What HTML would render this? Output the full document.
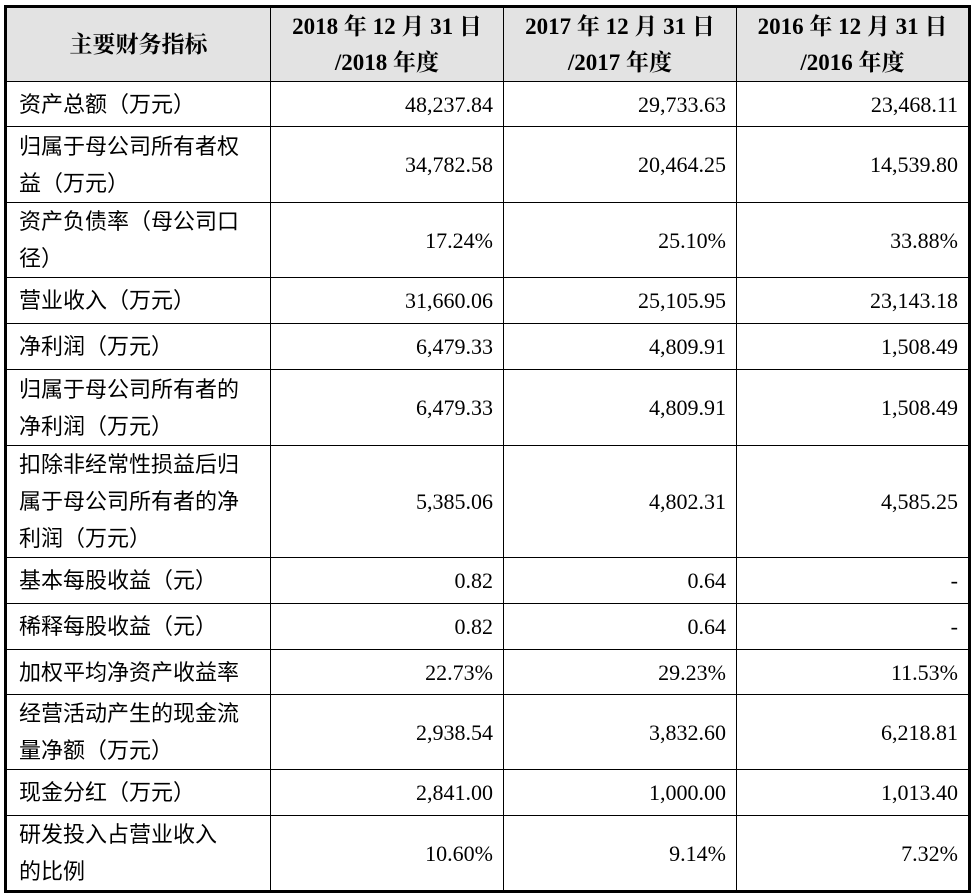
<!DOCTYPE html>
<html><head><meta charset="utf-8"><style>
body{margin:0;background:#fff;width:974px;height:896px;overflow:hidden}
table{position:absolute;left:4px;top:5px;border-collapse:collapse;border:3px solid #000;font-family:"Liberation Serif","Noto Serif CJK SC","Noto Sans CJK SC",serif;font-size:22px;color:#000}
td{border:1px solid #000;padding:0 10px 0 10px;line-height:37px;vertical-align:middle}
td.n{text-align:right;padding-right:10px}
td.l{padding-left:12px;font-family:"Liberation Serif","Noto Sans CJK SC",sans-serif}
tr.h td{background:#e3e3e3;font-weight:bold;text-align:center;line-height:36px;font-size:23px}
</style></head><body>
<table>
<colgroup><col style="width:265px"><col style="width:233px"><col style="width:233px"><col style="width:233px"></colgroup>
<tr class="h" style="height:75px"><td>主要财务指标</td><td>2018 年 12 月 31 日<br>/2018 年度</td><td>2017 年 12 月 31 日<br>/2017 年度</td><td>2016 年 12 月 31 日<br>/2016 年度</td></tr>
<tr style="height:45px"><td class="l">资产总额（万元）</td><td class="n">48,237.84</td><td class="n">29,733.63</td><td class="n">23,468.11</td></tr>
<tr style="height:76px"><td class="l">归属于母公司所有者权<br>益（万元）</td><td class="n">34,782.58</td><td class="n">20,464.25</td><td class="n">14,539.80</td></tr>
<tr style="height:75px"><td class="l">资产负债率（母公司口<br>径）</td><td class="n">17.24%</td><td class="n">25.10%</td><td class="n">33.88%</td></tr>
<tr style="height:46px"><td class="l">营业收入（万元）</td><td class="n">31,660.06</td><td class="n">25,105.95</td><td class="n">23,143.18</td></tr>
<tr style="height:46px"><td class="l">净利润（万元）</td><td class="n">6,479.33</td><td class="n">4,809.91</td><td class="n">1,508.49</td></tr>
<tr style="height:76px"><td class="l">归属于母公司所有者的<br>净利润（万元）</td><td class="n">6,479.33</td><td class="n">4,809.91</td><td class="n">1,508.49</td></tr>
<tr style="height:110px"><td class="l">扣除非经常性损益后归<br>属于母公司所有者的净<br>利润（万元）</td><td class="n">5,385.06</td><td class="n">4,802.31</td><td class="n">4,585.25</td></tr>
<tr style="height:46px"><td class="l">基本每股收益（元）</td><td class="n">0.82</td><td class="n">0.64</td><td class="n">-</td></tr>
<tr style="height:46px"><td class="l">稀释每股收益（元）</td><td class="n">0.82</td><td class="n">0.64</td><td class="n">-</td></tr>
<tr style="height:45px"><td class="l">加权平均净资产收益率</td><td class="n">22.73%</td><td class="n">29.23%</td><td class="n">11.53%</td></tr>
<tr style="height:74px"><td class="l">经营活动产生的现金流<br>量净额（万元）</td><td class="n">2,938.54</td><td class="n">3,832.60</td><td class="n">6,218.81</td></tr>
<tr style="height:46px"><td class="l">现金分红（万元）</td><td class="n">2,841.00</td><td class="n">1,000.00</td><td class="n">1,013.40</td></tr>
<tr style="height:75px"><td class="l">研发投入占营业收入<br>的比例</td><td class="n">10.60%</td><td class="n">9.14%</td><td class="n">7.32%</td></tr>
</table>
</body></html>
